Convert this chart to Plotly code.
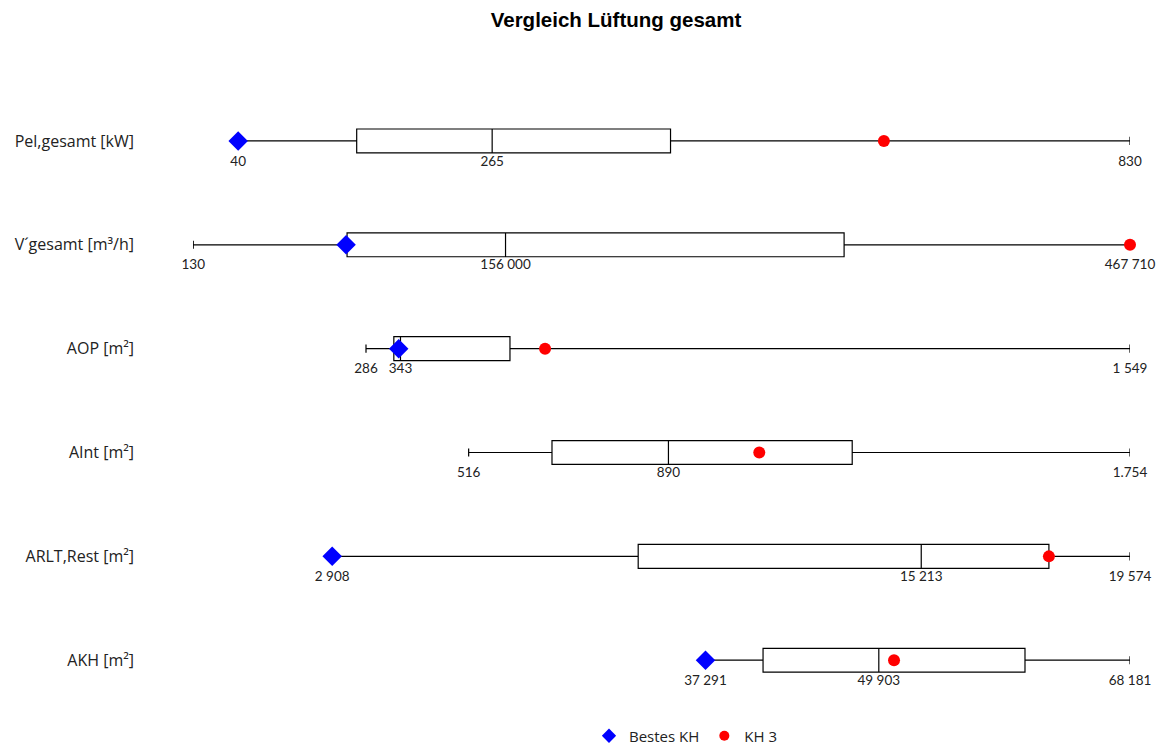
import plotly.graph_objects as go

# Rows (top to bottom)
categories = ["Pel,gesamt [kW]", "V\u00b4gesamt [m\u00b3/h]", "AOP [m\u00b2]",
              "AInt [m\u00b2]", "ARLT,Rest [m\u00b2]", "AKH [m\u00b2]"]

# Statistics per row in original units
mins    = [40, 130, 286, 516, 2908, 37291]
q1s     = [145, 76900, 332, 672, 9300, 41480]
medians = [265, 156000, 343, 890, 15213, 49903]
q3s     = [423, 325000, 524, 1234, 17880, 60540]
maxs    = [830, 467710, 1549, 1754, 19574, 68181]

# Reference objects (None = not shown)
bestes_kh = [40, 76400, 340, None, 2908, 37291]
kh3       = [612, 467710, 582, 1060, 17880, 51010]

# Printed labels for min / median / max
min_labels    = ["40", "130", "286", "516", "2 908", "37 291"]
median_labels = ["265", "156 000", "343", "890", "15 213", "49 903"]
max_labels    = ["830", "467 710", "1 549", "1.754", "19 574", "68 181"]

# Each row is scaled relative to its own maximum
def rel(vals):
    return [None if v is None else v / m for v, m in zip(vals, maxs)]

ypos = list(range(len(categories)))
label_font = dict(family="Lato, Open Sans, sans-serif", size=13.5, color="#222222")

fig = go.Figure()

fig.add_trace(go.Box(
    y=ypos, orientation="h",
    lowerfence=rel(mins), q1=rel(q1s), median=rel(medians),
    q3=rel(q3s), upperfence=rel(maxs),
    width=0.23, whiskerwidth=0.34,
    fillcolor="white", line=dict(color="black", width=1.2),
    showlegend=False, hoverinfo="skip",
))

# Value labels under the rows
for vals, texts in [(mins, min_labels), (medians, median_labels), (maxs, max_labels)]:
    fig.add_trace(go.Scatter(
        x=rel(vals), y=[y + 0.14 for y in ypos], mode="text", text=texts,
        textposition="bottom center", textfont=label_font,
        showlegend=False, hoverinfo="skip", cliponaxis=False,
    ))

best_x = rel(bestes_kh)
fig.add_trace(go.Scatter(
    x=[x for x in best_x if x is not None],
    y=[y for y, x in zip(ypos, best_x) if x is not None],
    mode="markers", name="Bestes KH", legendgroup="best", showlegend=False,
    marker=dict(symbol="diamond", color="#0000ff", size=15),
    cliponaxis=False,
))
fig.add_trace(go.Scatter(
    x=rel(kh3), y=ypos, mode="markers", name="KH 3", legendgroup="kh3", showlegend=False,
    marker=dict(symbol="circle", color="#ff0000", size=12),
    cliponaxis=False,
))

# Legend entries with smaller symbols
fig.add_trace(go.Scatter(
    x=[None], y=[None], mode="markers", name="Bestes KH", legendgroup="best",
    marker=dict(symbol="diamond", color="#0000ff", size=11),
))
fig.add_trace(go.Scatter(
    x=[None], y=[None], mode="markers", name="KH 3", legendgroup="kh3",
    marker=dict(symbol="circle", color="#ff0000", size=10),
))

fig.update_layout(
    width=1164, height=745,
    margin=dict(l=193, r=34, t=89, b=37),
    paper_bgcolor="white", plot_bgcolor="white",
    title=dict(text="<b>Vergleich L\u00fcftung gesamt</b>", x=616 / 1164, xanchor="center",
               y=1 - 20 / 745, yanchor="middle",
               font=dict(family="Liberation Sans, Arial, sans-serif", size=20.5, color="black")),
    xaxis=dict(range=[0, 1], visible=False, showgrid=False, zeroline=False),
    yaxis=dict(range=[5.46, -0.5], tickvals=ypos, ticktext=categories,
               showgrid=False, zeroline=False, showline=False, ticks="",
               ticklabelstandoff=58,
               tickfont=dict(family="Open Sans, sans-serif", size=16, color="#222222")),
    legend=dict(orientation="h", x=686 / 1164, xanchor="center",
                xref="container", yref="container",
                y=1 - 736 / 745, yanchor="middle",
                font=dict(family="Open Sans, sans-serif", size=15, color="#222222"),
                itemwidth=30, tracegroupgap=0, bgcolor="rgba(0,0,0,0)"),
)

fig.write_html("out.html")
